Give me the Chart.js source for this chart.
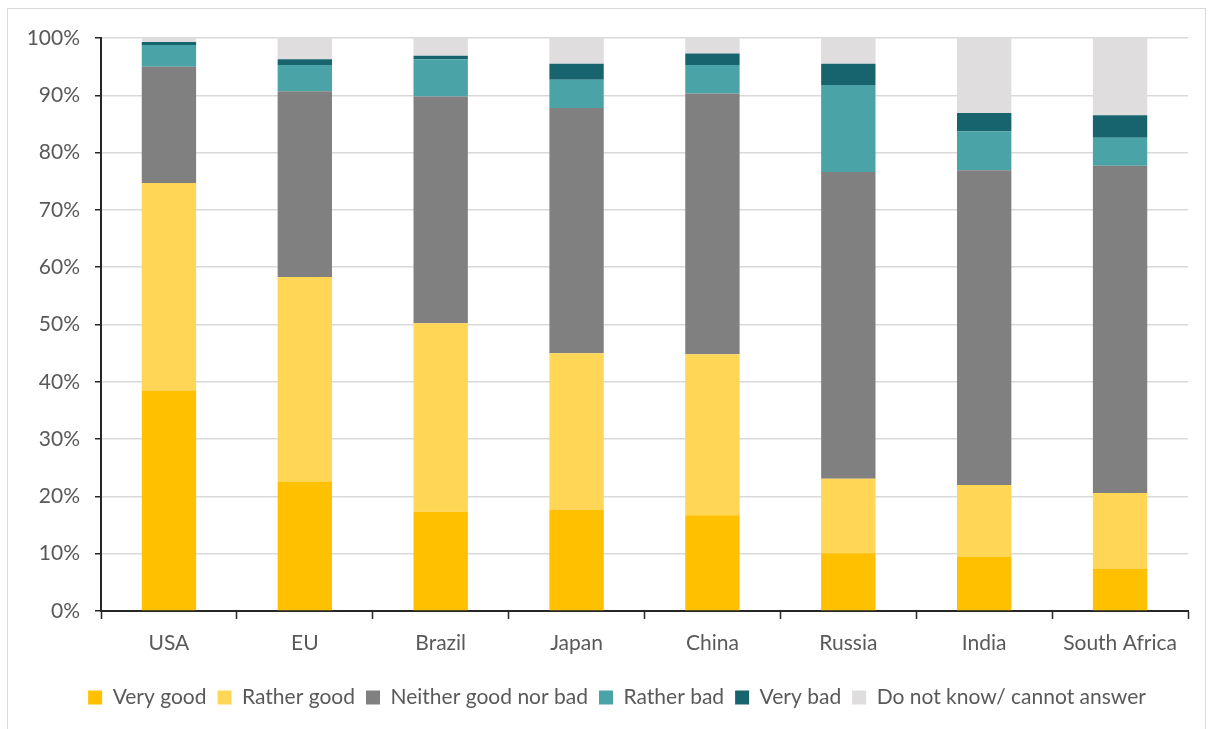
<!DOCTYPE html>
<html>
<head>
<meta charset="utf-8">
<script src="https://cdn.jsdelivr.net/npm/chart.js@4/dist/chart.umd.min.js"></script>
<style>
    body { margin: 0; background: #fff; }
    #frame { position: absolute; left: 7px; top: 8px; width: 1197px; height: 740px; border: 1px solid #d9d9d9; }
    #wrap { position: absolute; left: 0; top: 0; width: 1208px; height: 729px; }
</style>
</head>
<body>
<div id="frame"></div>
<div id="wrap"><canvas id="surveyChart"></canvas></div>
<script>
// Categories and series values (percent of respondents)
const countries = ['USA', 'EU', 'Brazil', 'Japan', 'China', 'Russia', 'India', 'South Africa'];

const veryGood    = [38.5, 22.6, 17.3, 17.7, 16.7, 10.1,  9.5,  7.4];
const ratherGood  = [36.2, 35.7, 32.9, 27.3, 28.1, 13.0, 12.5, 13.2];
const neither     = [20.3, 32.4, 39.6, 42.8, 45.5, 53.5, 54.9, 57.1];
const ratherBad   = [ 3.8,  4.6,  6.5,  4.9,  5.0, 15.2,  6.8,  4.9];
const veryBad     = [ 0.5,  1.0,  0.6,  2.8,  2.0,  3.7,  3.2,  3.9];
const doNotKnow   = [ 0.7,  3.7,  3.1,  4.5,  2.7,  4.5, 13.1, 13.5];

const seriesNames = ['Very good', 'Rather good', 'Neither good nor bad', 'Rather bad', 'Very bad', 'Do not know/ cannot answer'];
const seriesColors = ['#FFC000', '#FFD655', '#808080', '#4AA3A6', '#17646F', '#DFDDDE'];

const textColor = '#595959';
const fontFamily = 'Lato, "Open Sans", sans-serif';

function buildDatasets() {
    const values = [veryGood, ratherGood, neither, ratherBad, veryBad, doNotKnow];
    return values.map((data, i) => ({
        label: seriesNames[i],
        data: data,
        backgroundColor: seriesColors[i],
        borderWidth: 0,
        barPercentage: 0.4,
        categoryPercentage: 1.0
    }));
}

// Nudge the legend a little to the right, like the original
const legendShift = {
    id: 'legendShift',
    afterLayout(chart) {
        const legend = chart.legend;
        if (legend) {
            legend.left += 23;
            legend.right += 23;
        }
    }
};

const ctx = document.getElementById('surveyChart').getContext('2d');
const surveyChart = new Chart(ctx, {
    type: 'bar',
    data: {
        labels: countries,
        datasets: buildDatasets()
    },
    options: {
        responsive: true,
        maintainAspectRatio: false,
        animation: false,
        layout: {
            padding: { left: 0, right: 20, top: 38, bottom: 11 }
        },
        scales: {
            x: {
                stacked: true,
                grid: {
                    drawOnChartArea: false,
                    drawTicks: true,
                    tickLength: 8,
                    tickColor: '#262626',
                    tickWidth: 1.5
                },
                border: { display: true, color: '#262626', width: 2 },
                ticks: {
                    color: textColor,
                    padding: 12,
                    font: { family: fontFamily, size: 21 }
                },
                afterFit: function (scale) { scale.height = 65; }
            },
            y: {
                stacked: true,
                min: 0,
                max: 100,
                grid: {
                    color: '#d9d9d9',
                    lineWidth: 1.5,
                    tickLength: 6,
                    tickColor: '#262626',
                    tickWidth: 1.5
                },
                border: { display: true, color: '#262626', width: 2 },
                ticks: {
                    stepSize: 10,
                    color: textColor,
                    padding: 15,
                    font: { family: fontFamily, size: 21 },
                    callback: function (value) { return value + '%'; }
                },
                afterFit: function (scale) { scale.width = 101; }
            }
        },
        plugins: {
            legend: {
                position: 'bottom',
                labels: {
                    color: textColor,
                    boxWidth: 14,
                    boxHeight: 14,
                    padding: 11,
                    font: { family: fontFamily, size: 21 }
                }
            },
            tooltip: { enabled: false }
        }
    },
    plugins: [legendShift]
});
</script>
</body>
</html>
